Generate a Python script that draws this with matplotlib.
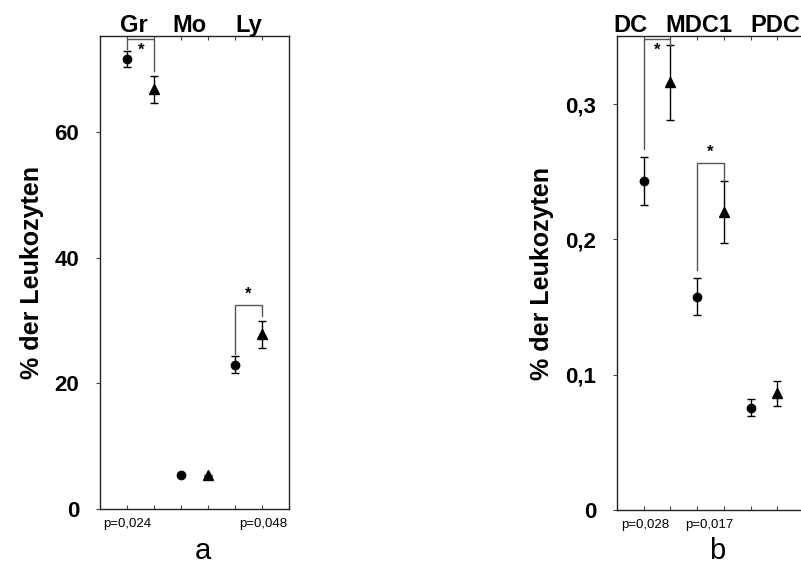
import matplotlib
matplotlib.use("Agg")
import matplotlib.pyplot as plt
import numpy as np

plt.rcParams["font.family"] = ["Liberation Sans", "DejaVu Sans"]

# panel a: granulocytes, monocytes, lymphocytes (% of leukocytes)
groups_a = ["Gr", "Mo", "Ly"]
circle_a = [71.5, 5.4, 23.0]
circle_err_a = [1.3, 0.1, 1.3]
tri_a = [66.7, 5.4, 27.8]
tri_err_a = [2.1, 0.1, 2.1]
bracket_top_a = [74.8, None, 32.4]
pvals_a = ["p=0,024", None, "p=0,048"]

# panel b: dendritic cells (% of leukocytes)
groups_b = ["DC", "MDC1", "PDC"]
circle_b = [0.243, 0.1577, 0.0756]
circle_err_b = [0.0177, 0.0135, 0.0065]
tri_b = [0.316, 0.220, 0.0862]
tri_err_b = [0.028, 0.023, 0.009]
bracket_top_b = [0.3478, 0.2562, None]
pvals_b = ["p=0,028", "p=0,017", None]


def draw_panel(ax, groups, circ, circ_err, tri, tri_err, br_top, pvals,
               ylim, yticks, yticklabels, label_x, pval_x, leg_gap, star_below):
    xc = np.arange(len(groups)) * 2 + 1
    xt = xc + 1
    span = ylim[1] - ylim[0]
    ax.errorbar(xc, circ, yerr=circ_err, fmt="o", color="black", ms=6,
                capsize=3, elinewidth=1, capthick=1)
    ax.errorbar(xt, tri, yerr=tri_err, fmt="^", color="black", ms=7,
                capsize=3, elinewidth=1, capthick=1)

    # significance brackets
    for i, top in enumerate(br_top):
        if top is None:
            continue
        y_left = circ[i] + circ_err[i] + leg_gap[0]
        y_right = tri[i] + tri_err[i] + leg_gap[1]
        ax.plot([xc[i], xc[i], xt[i], xt[i]], [y_left, top, top, y_right],
                color="#555555", lw=1, solid_joinstyle="miter")
        if star_below[i]:
            ax.text(xc[i] + 0.52, top - span * 0.008, "*", ha="center",
                    va="top", fontsize=12, fontweight="bold")
        else:
            ax.text((xc[i] + xt[i]) / 2, top + span * 0.008, "*",
                    ha="center", va="bottom", fontsize=12, fontweight="bold")

    ax.set_xlim(0, 7)
    ax.set_ylim(*ylim)
    ax.set_xticks(np.arange(1, 7))
    ax.set_xticklabels([])
    ax.tick_params(axis="x", direction="in", length=3, top=True, bottom=True,
                   width=0.8, color="#444444")
    ax.set_yticks(yticks)
    ax.set_yticklabels(yticklabels, fontsize=16, fontweight="bold")
    ax.tick_params(axis="y", direction="out", length=3, pad=12, width=0.8,
                   color="#444444")
    for s in ax.spines.values():
        s.set_linewidth(1)
        s.set_color("#222222")

    for g, lx in zip(groups, label_x):
        ax.text(lx, 1.008, g, transform=ax.get_xaxis_transform(), ha="center",
                va="baseline", fontsize=17, fontweight="bold")
    for p, px in zip(pvals, pval_x):
        if p is None:
            continue
        ax.text(px, -0.031, p, transform=ax.get_xaxis_transform(), ha="center",
                va="center", fontsize=9.5)

    ax.set_ylabel("% der Leukozyten", fontsize=18, fontweight="bold", va="center")


fig = plt.figure(figsize=(8.01, 5.64), dpi=100)

ax_a = fig.add_axes([100 / 801, 54.7 / 564, 189 / 801, 473.3 / 564])
draw_panel(ax_a, groups_a, circle_a, circle_err_a, tri_a, tri_err_a,
           bracket_top_a, pvals_a, (0, 75.2), [0, 20, 40, 60],
           ["0", "20", "40", "60"], [1.25, 3.3, 5.5], [1.0, None, 6.05],
           (0.4, 0.8), [True, False, False])
ax_a.yaxis.set_label_coords(-0.36, 0.5)

ax_b = fig.add_axes([617 / 801, 54 / 564, 187 / 801, 474 / 564])
draw_panel(ax_b, groups_b, circle_b, circle_err_b, tri_b, tri_err_b,
           bracket_top_b, pvals_b, (0, 0.3503), [0, 0.1, 0.2, 0.3],
           ["0", "0,1", "0,2", "0,3"], [0.52, 3.07, 5.92], [1.05, 3.45, None],
           (0.006, 0.0), [True, False, False])
ax_b.yaxis.set_label_coords(-0.40, 0.5)

fig.text(202.5 / 801, 1 - 559 / 564, "a", ha="center", va="baseline", fontsize=21)
fig.text(717 / 801, 1 - 559 / 564, "b", ha="center", va="baseline", fontsize=21)

fig.savefig("out.png", dpi=100)
